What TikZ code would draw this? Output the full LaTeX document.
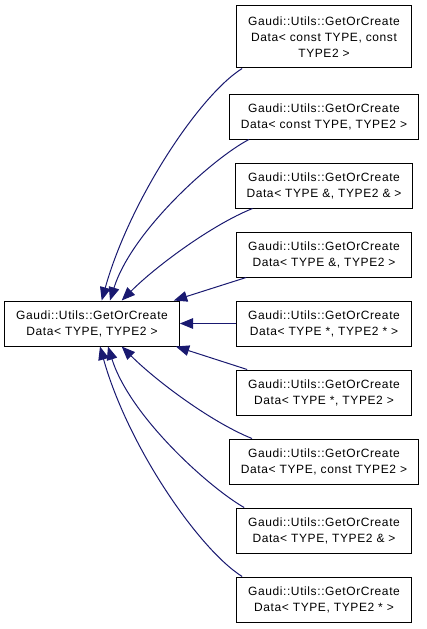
\documentclass[tikz,border=0pt]{standalone}
\usepackage{fontspec}
\setmainfont{Liberation Sans}[LetterSpace=5]
\usepackage{tikz}
\usetikzlibrary{arrows.meta,calc,positioning,trees}
\definecolor{midnightblue}{RGB}{25,25,112}

\tikzset{
  cls/.style={draw=black, line width=0.75pt, fill=white, align=center,
    font=\fontsize{9}{12}\selectfont, inner xsep=8.6pt, inner ysep=2pt,
    minimum height=33.75pt},
  inherit/.style={draw=midnightblue, line width=0.75pt,
    -{Triangle[length=10pt,width=8pt]}},
}

\begin{document}
\begin{tikzpicture}[x=0.75pt,y=-0.75pt,
grow'=east,
level distance=174pt,
sibling distance=51.75pt,
edge from parent/.style={draw=none}]
\useasboundingbox (0,0) rectangle (427,629);
\node[cls] (root) at (92,323.5) {Gaudi::Utils::GetOrCreate\\Data< TYPE, TYPE2 >}
            child {node[cls, minimum height=46.5pt, yshift=7.9pt] (c1)
                {Gaudi::Utils::GetOrCreate\\Data< const TYPE, const\\TYPE2 >}}
            child {node[cls] (c2) {Gaudi::Utils::GetOrCreate\\Data< const TYPE, TYPE2 >}}
            child {node[cls] (c3) {Gaudi::Utils::GetOrCreate\\Data< TYPE \&, TYPE2 \& >}}
            child {node[cls] (c4) {Gaudi::Utils::GetOrCreate\\Data< TYPE \&, TYPE2 >}}
            child {node[cls] (c5) {Gaudi::Utils::GetOrCreate\\Data< TYPE *, TYPE2 * >}}
            child {node[cls] (c6) {Gaudi::Utils::GetOrCreate\\Data< TYPE *, TYPE2 >}}
            child {node[cls] (c7) {Gaudi::Utils::GetOrCreate\\Data< TYPE, const TYPE2 >}}
            child {node[cls] (c8) {Gaudi::Utils::GetOrCreate\\Data< TYPE, TYPE2 \& >}}
            child {node[cls] (c9) {Gaudi::Utils::GetOrCreate\\Data< TYPE, TYPE2 * >}}
            ;

\draw[inherit] ($(c1.south west)+(6,0)$) .. controls +(-43,27) and +(28,-100) .. ($(root.north)+(9.7,0)$);
\draw[inherit] ($(c2.south west)+(20,0)$) .. controls +(-35,18) and +(22,-70) .. ($(root.north)+(18,0)$);
\draw[inherit] ($(c3.south west)+(18,0)$) .. controls +(-40,16) and +(35,-35) .. ($(root.north)+(29.7,0)$);
\draw[inherit] ($(c4.south west)+(10,0)$) -- ($(root.north east)+(-6,0)$);
\draw[inherit] (c5.west) -- (root.east);
\draw[inherit] ($(c6.north west)+(11,0)$) -- ($(root.south east)+(-4,0)$);
\draw[inherit] ($(c7.north west)+(23,0)$) .. controls +(-40,-16) and +(35,35) .. ($(root.south)+(29.7,0)$);
\draw[inherit] ($(c8.north west)+(8,0)$) .. controls +(-35,-20) and +(22,70) .. ($(root.south)+(16,0)$);
\draw[inherit] ($(c9.north west)+(6,0)$) .. controls +(-43,-27) and +(28,100) .. ($(root.south)+(8,0)$);

\end{tikzpicture}
\end{document}
